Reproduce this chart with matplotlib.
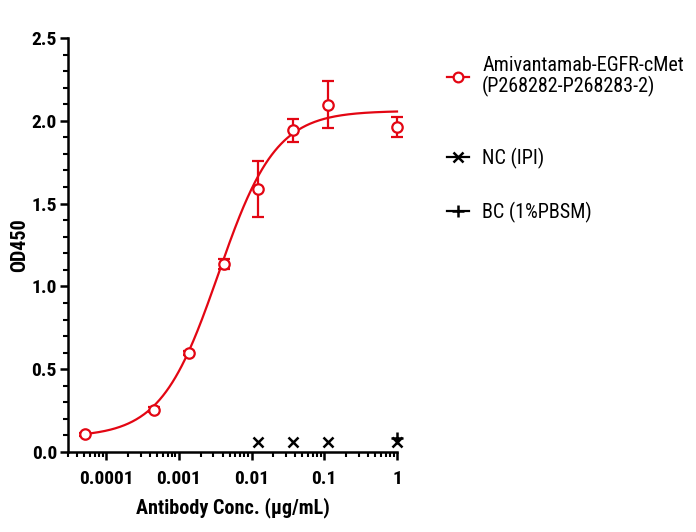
import numpy as np
import matplotlib
matplotlib.use("Agg")
import matplotlib.pyplot as plt
from matplotlib.lines import Line2D
from matplotlib.ticker import LogLocator, MultipleLocator, FixedLocator, FixedFormatter, NullFormatter

# ---- data ----
conc = [0.0000508, 0.000457, 0.00137, 0.00412, 0.0123, 0.037, 0.111, 1.0]
od = [0.107, 0.256, 0.598, 1.135, 1.59, 1.943, 2.098, 1.965]
od_err = [0.01, 0.015, 0.01, 0.03, 0.17, 0.07, 0.14, 0.06]

nc_conc = [0.0123, 0.037, 0.111, 1.0]
nc_od = [0.058, 0.058, 0.058, 0.06]

bc_conc = [1.0]
bc_od = [0.085]

# 4PL fit parameters (bottom, top, EC50, hill)
fit_bottom, fit_top, fit_ec50, fit_hill = 0.09, 2.06, 0.0035, 1.1

xticks = [0.0001, 0.001, 0.01, 0.1, 1]
xticklabels = ["0.0001", "0.001", "0.01", "0.1", "1"]
yticks = [0.0, 0.5, 1.0, 1.5, 2.0, 2.5]
yticklabels = ["0.0", "0.5", "1.0", "1.5", "2.0", "2.5"]

labels = ["Amivantamab-EGFR-cMet\n(P268282-P268283-2)", "NC (IPI)", "BC (1%PBSM)"]

RED = "#E30613"
plt.rcParams["font.family"] = ["Roboto Condensed", "Liberation Sans", "DejaVu Sans"]

fig = plt.figure(figsize=(6.96, 5.32), dpi=100)
ax = fig.add_axes([68 / 696, 1 - 452 / 532, (397 - 68) / 696, (452 - 38) / 532])

xs = np.logspace(np.log10(conc[0]), np.log10(conc[-1]), 400)
ys = fit_bottom + (fit_top - fit_bottom) / (1 + (fit_ec50 / xs) ** fit_hill)
ax.plot(xs, ys, color=RED, lw=1.6, zorder=3, clip_on=False)

eb = ax.errorbar(conc, od, yerr=od_err, fmt="o", mfc="white", mec=RED, ecolor=RED,
                 ms=7.5, mew=1.6, elinewidth=1.6, capsize=4, capthick=1.6, zorder=4)
for art in eb.lines[0:1] + tuple(eb.lines[1]) + tuple(eb.lines[2]):
    art.set_clip_on(False)
ax.plot(nc_conc, nc_od, "x", color="black", ms=7, mew=1.8, zorder=5, clip_on=False)
ax.plot(bc_conc, bc_od, "+", color="black", ms=9, mew=1.8, zorder=5, clip_on=False)

ax.set_xscale("log")
ax.set_xlim(3e-5, 1.0)
ax.set_ylim(0, 2.5)

for s in ["top", "right"]:
    ax.spines[s].set_visible(False)
for s in ["left", "bottom"]:
    ax.spines[s].set_linewidth(1.8)

ax.xaxis.set_major_locator(FixedLocator(xticks))
ax.xaxis.set_major_formatter(FixedFormatter(xticklabels))
ax.xaxis.set_minor_locator(LogLocator(base=10, subs=np.arange(2, 10), numticks=20))
ax.xaxis.set_minor_formatter(NullFormatter())
ax.yaxis.set_major_locator(FixedLocator(yticks))
ax.yaxis.set_major_formatter(FixedFormatter(yticklabels))
ax.yaxis.set_minor_locator(MultipleLocator(0.1))

ax.tick_params(which="major", length=6, width=1.8, direction="out", labelsize=14)
ax.tick_params(axis="x", which="major", pad=7)
ax.tick_params(axis="y", which="major", pad=2)
ax.tick_params(which="minor", length=3.5, width=1.5, direction="out")
for lab in ax.get_xticklabels() + ax.get_yticklabels():
    lab.set_fontweight("bold")

ax.set_xlabel("Antibody Conc. (μg/mL)", fontsize=14.5, fontweight="bold")
ax.set_ylabel("OD450", fontsize=14.5, fontweight="bold")
ax.xaxis.set_label_coords(0.5, (452 - 508) / 414)
ax.yaxis.set_label_coords((20 - 68) / 329, 0.5)
ax.xaxis.label.set_va("center")
ax.yaxis.label.set_va("center")

handles = [
    Line2D([], [], color=RED, lw=1.6, marker="o", mfc="white", mec=RED, ms=7, mew=1.6),
    Line2D([], [], color="black", lw=1.6, marker="x", ms=7, mew=1.8),
    Line2D([], [], color="black", lw=1.6, marker="+", ms=9, mew=1.8),
]
leg_y = [76.5, 158, 212]
for h, lab, yc in zip(handles, labels, leg_y):
    lg = fig.legend([h], [lab], loc="center left", bbox_to_anchor=(447 / 696, 1 - yc / 532),
                    frameon=False, fontsize=14.5, handlelength=1.1, handletextpad=0.65,
                    borderaxespad=0, borderpad=0)
    for t in lg.get_texts():
        t.set_linespacing(1.0)

fig.savefig("out.png", dpi=100)
